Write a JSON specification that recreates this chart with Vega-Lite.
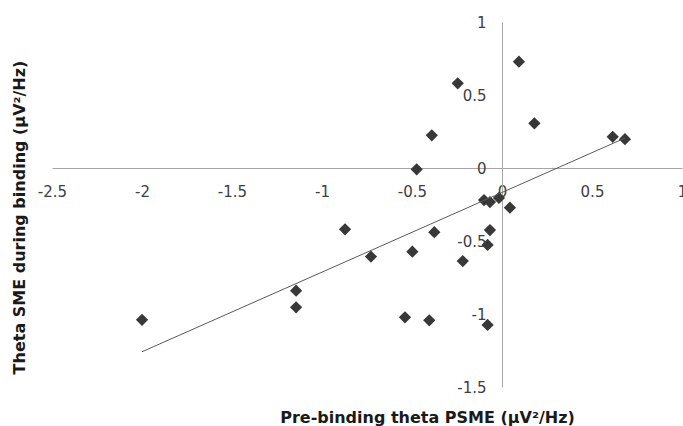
{
  "$schema": "https://vega.github.io/schema/vega-lite/v6.json",
  "autosize": "none",
  "width": 630,
  "height": 365,
  "padding": {"left": 52, "top": 22, "right": 1, "bottom": 39},
  "background": "white",
  "config": {
    "view": {"stroke": null},
    "axis": {
      "grid": false,
      "ticks": false,
      "tickSize": 0,
      "domainColor": "#a6a6a6",
      "domainWidth": 1,
      "labelFont": "DejaVu Sans",
      "labelFontSize": 15,
      "labelColor": "#404040",
      "titleFont": "DejaVu Sans",
      "titleFontSize": 16,
      "titleFontWeight": "bold",
      "titleColor": "#1a1a1a"
    }
  },
  "data": {
    "values": [
      {"x": -2.0, "y": -1.04},
      {"x": -1.144, "y": -0.84},
      {"x": -1.144, "y": -0.954},
      {"x": -0.872, "y": -0.42},
      {"x": -0.728, "y": -0.607},
      {"x": -0.498, "y": -0.573},
      {"x": -0.376, "y": -0.44},
      {"x": -0.218, "y": -0.637},
      {"x": -0.067, "y": -0.425},
      {"x": -0.08, "y": -0.527},
      {"x": -0.539, "y": -1.023},
      {"x": -0.404, "y": -1.043},
      {"x": -0.08, "y": -1.075},
      {"x": 0.044, "y": -0.272},
      {"x": -0.10, "y": -0.22},
      {"x": -0.067, "y": -0.233},
      {"x": -0.017, "y": -0.205},
      {"x": -0.474, "y": -0.009},
      {"x": -0.39, "y": 0.224},
      {"x": -0.246, "y": 0.58},
      {"x": 0.094, "y": 0.728},
      {"x": 0.18, "y": 0.306},
      {"x": 0.615, "y": 0.214},
      {"x": 0.683, "y": 0.197}
    ]
  },
  "encoding": {
    "x": {
      "field": "x",
      "type": "quantitative",
      "scale": {"domain": [-2.5, 1], "nice": false, "zero": false},
      "axis": {
        "orient": "bottom",
        "offset": -219,
        "values": [-2.5, -2, -1.5, -1, -0.5, 0, 0.5, 1],
        "labelExpr": "'' + datum.value",
        "labelPadding": 16,
        "labelFlush": false,
        "labelOverlap": false,
        "title": "Pre-binding theta PSME (µV²/Hz)",
        "titleX": 375,
        "titleY": 254,
        "titleAnchor": null,
        "titleAlign": "center",
        "titleBaseline": "alphabetic"
      }
    },
    "y": {
      "field": "y",
      "type": "quantitative",
      "scale": {"domain": [-1.5, 1], "nice": false, "zero": false},
      "axis": {
        "orient": "left",
        "offset": -450,
        "values": [-1.5, -1, -0.5, 0, 0.5, 1],
        "labelExpr": "'' + datum.value",
        "labelPadding": 16,
        "labelFlush": false,
        "labelOverlap": false,
        "title": "Theta SME during binding (µV²/Hz)",
        "titleX": -478,
        "titleY": 195,
        "titleAngle": -90,
        "titleAlign": "center",
        "titleBaseline": "alphabetic"
      }
    }
  },
  "layer": [
    {
      "mark": {"type": "point", "shape": "diamond", "filled": true, "size": 150, "color": "#383838", "opacity": 1}
    },
    {
      "transform": [{"regression": "y", "on": "x"}],
      "mark": {"type": "line", "color": "#5a5a5a", "strokeWidth": 1}
    }
  ]
}
